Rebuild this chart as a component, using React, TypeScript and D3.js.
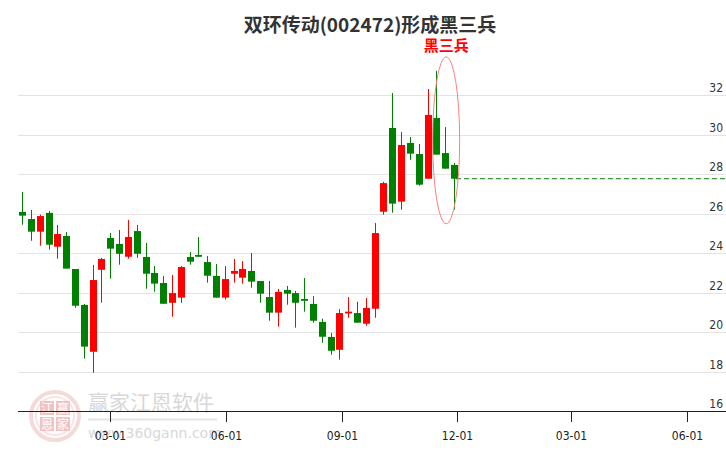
import React from "react";
import * as d3 from "d3";

// weekly candles, 双环传动 002472
const dates = [
  "2022-12-21", "2022-12-28", "2023-01-04", "2023-01-11", "2023-01-18", "2023-01-25",
  "2023-02-01", "2023-02-08", "2023-02-15", "2023-02-22", "2023-03-01", "2023-03-08",
  "2023-03-15", "2023-03-22", "2023-03-29", "2023-04-05", "2023-04-12", "2023-04-19",
  "2023-04-26", "2023-05-03", "2023-05-10", "2023-05-17", "2023-05-24", "2023-05-31",
  "2023-06-07", "2023-06-14", "2023-06-21", "2023-06-28", "2023-07-05", "2023-07-12",
  "2023-07-19", "2023-07-26", "2023-08-02", "2023-08-09", "2023-08-16", "2023-08-23",
  "2023-08-30", "2023-09-06", "2023-09-13", "2023-09-20", "2023-09-27", "2023-10-04",
  "2023-10-11", "2023-10-18", "2023-10-25", "2023-11-01", "2023-11-08", "2023-11-15",
  "2023-11-22", "2023-11-29",
];

const opens = [
  26.08, 25.72, 25.08, 26.03, 24.32, 24.86, 23.19, 21.37, 19.0, 23.15,
  24.76, 24.46, 23.81, 25.11, 23.8, 22.99, 22.48, 21.48, 21.74, 23.8,
  23.9, 23.54, 22.84, 21.74, 22.95, 22.75, 23.09, 22.58, 21.77, 20.98,
  22.13, 21.97, 21.67, 21.42, 20.51, 19.75, 19.1, 20.94, 20.96, 20.42,
  21.18, 26.09, 30.33, 26.6, 29.57, 29.01, 27.76, 30.84, 29.06, 28.46,
];
const highs = [
  27.09, 26.18, 25.94, 26.13, 25.42, 25.06, 23.19, 21.42, 23.39, 23.75,
  25.01, 25.16, 25.67, 25.42, 24.51, 23.34, 22.84, 22.89, 23.34, 24.05,
  24.81, 23.85, 23.44, 23.34, 23.7, 23.59, 24.0, 22.58, 22.58, 22.18,
  22.33, 22.08, 22.73, 21.82, 20.67, 19.95, 21.16, 21.77, 21.53, 21.72,
  25.52, 27.6, 32.1, 30.13, 29.87, 29.52, 32.3, 33.22, 30.38, 28.56,
];
const lows = [
  25.43, 24.62, 24.37, 24.17, 23.71, 23.21, 21.23, 18.65, 17.94, 21.48,
  22.7, 23.41, 23.71, 23.76, 22.19, 22.04, 21.43, 20.77, 21.48, 23.41,
  23.81, 22.5, 21.74, 21.64, 22.5, 22.45, 22.24, 21.48, 20.57, 20.27,
  21.38, 20.22, 21.03, 20.47, 19.46, 18.85, 18.6, 20.72, 20.47, 20.32,
  20.72, 25.94, 26.04, 26.19, 28.72, 27.41, 27.76, 28.98, 28.27, 26.19,
];
const closes = [
  25.89, 25.08, 25.87, 24.42, 24.96, 23.21, 21.33, 19.26, 22.63, 23.7,
  24.22, 23.96, 24.81, 23.96, 22.95, 22.45, 21.43, 21.97, 23.29, 23.56,
  23.81, 22.85, 21.74, 22.68, 23.09, 23.19, 22.55, 21.94, 20.98, 22.03,
  21.94, 21.48, 21.58, 20.57, 19.76, 19.05, 20.96, 21.03, 20.47, 21.22,
  25.01, 27.54, 26.5, 29.47, 29.03, 27.46, 30.99, 28.98, 28.27, 27.76,
];

const yTicks = [16, 18, 20, 22, 24, 26, 28, 30, 32];
const xTickDates = ["2023-03-01", "2023-06-01", "2023-09-01", "2023-12-01", "2024-03-01", "2024-06-01"];

const title = "双环传动(002472)形成黑三兵";
const patternLabel = "黑三兵";
const patternStart = 47; // last three candles

const W = 726;
const H = 450;
const RED = "#ff0000";
const GREEN = "#008000";
const axisFont = "'Liberation Sans Narrow', 'DejaVu Sans Condensed', 'Arial Narrow', sans-serif";
const cjkFont = "'Noto Sans CJK SC', 'Noto Sans', sans-serif";

const parse = d3.timeParse("%Y-%m-%d");

export default function App() {
  const x = d3
    .scaleTime()
    .domain([parse("2023-03-01")!, parse("2024-06-01")!])
    .range([110.3, 686.9]);
  const y = d3.scaleLinear().domain([16, 32]).range([411, 95]);
  const fmt = d3.timeFormat("%m-%d");
  const left = 18;
  const bodyW = 7;

  const candles = dates.map((d, i) => ({
    date: parse(d)!,
    o: opens[i],
    h: highs[i],
    l: lows[i],
    c: closes[i],
  }));
  const last = candles[candles.length - 1];

  // ellipse around the last three candles
  const pat = candles.slice(patternStart);
  const eTop = y(d3.max(pat, (d) => d.h)!) - 14;
  const eBot = y(d3.min(pat, (d) => d.l)!) + 14;
  const ecx = x(candles[patternStart + 1].date) + 1;
  const ecy = (eTop + eBot) / 2;

  return (
    <div style={{ position: "absolute", left: 0, top: 0 }}>
      <svg width={W} height={H} style={{ display: "block", background: "#fff" }}>
        {/* watermark */}
        <g opacity={0.9}>
          <circle cx={55} cy={416} r={24} fill="none" stroke="#f5d6d6" strokeWidth={4} />
          <circle cx={55} cy={416} r={19} fill="none" stroke="#f8e2e2" strokeWidth={2} />
          {[
            ["江", 40, 401],
            ["赢", 56, 401],
            ["恩", 40, 417],
            ["家", 56, 417],
          ].map(([t, sx, sy]) => (
            <g key={t as string}>
              <rect x={sx as number} y={sy as number} width={14} height={14} fill="#efbdbd" />
              <text
                x={(sx as number) + 7}
                y={(sy as number) + 12}
                textAnchor="middle"
                fontSize={12}
                fontFamily={cjkFont}
                fill="#fff"
              >
                {t}
              </text>
            </g>
          ))}
          <text x={88} y={410} fontSize={21} fontFamily={cjkFont} fill="#d4d4d4">
            赢家江恩软件
          </text>
          <line x1={88} x2={217} y1={419.5} y2={419.5} stroke="#e2e2e2" strokeWidth={2} />
          <text x={88} y={438} fontSize={14} fontFamily="'DejaVu Sans', sans-serif" fill="#d4d4d4">
            www.360gann.com
          </text>
        </g>

        {/* grid + right axis labels */}
        {yTicks.map((t) => (
          <g key={t}>
            {t !== 16 && (
              <line x1={left} x2={W} y1={Math.round(y(t)) + 0.5} y2={Math.round(y(t)) + 0.5} stroke="#e3e3e3" />
            )}
            <text x={723} y={y(t) - 3} textAnchor="end" fontSize={12} fontFamily={axisFont} fill="#333">
              {t}
            </text>
          </g>
        ))}

        {/* candles */}
        {candles.map((d, i) => {
          const up = d.c >= d.o;
          const col = up ? RED : GREEN;
          const cx = Math.round(x(d.date)) + 0.5;
          const top = y(Math.max(d.o, d.c));
          const bot = y(Math.min(d.o, d.c));
          return (
            <g key={i}>
              <line x1={cx} x2={cx} y1={y(d.h)} y2={y(d.l)} stroke={col} strokeWidth={1} />
              <rect x={cx - bodyW / 2} y={top} width={bodyW} height={Math.max(1.5, bot - top)} fill={col} />
            </g>
          );
        })}

        {/* last close dashed */}
        <line
          x1={x(last.date) + 2}
          x2={W}
          y1={y(last.c)}
          y2={y(last.c)}
          stroke={GREEN}
          strokeWidth={1}
          strokeDasharray="5,3"
        />

        {/* pattern marker */}
        <ellipse cx={ecx} cy={ecy} rx={13.5} ry={(eBot - eTop) / 2} fill="none" stroke="#ff7f7f" strokeWidth={1} />
        <text
          x={ecx}
          y={eTop - 6}
          textAnchor="middle"
          fontSize={15}
          fontWeight="bold"
          fontFamily={cjkFont}
          fill={RED}
        >
          {patternLabel}
        </text>

        {/* x axis */}
        <line x1={left} x2={W} y1={411.5} y2={411.5} stroke="#222" strokeWidth={1} />
        {xTickDates.map((s) => {
          const tx = Math.round(x(parse(s)!)) + 0.5;
          return (
            <g key={s}>
              <line x1={tx} x2={tx} y1={412} y2={422} stroke="#222" />
              <text x={tx} y={439.5} textAnchor="middle" fontSize={12} fontFamily={axisFont} fill="#222">
                {fmt(parse(s)!)}
              </text>
            </g>
          );
        })}

        {/* title */}
        <text
          x={370}
          y={32}
          textAnchor="middle"
          fontSize={19}
          fontWeight="bold"
          fontFamily={cjkFont}
          fill="#333"
        >
          {title}
        </text>
      </svg>
    </div>
  );
}
